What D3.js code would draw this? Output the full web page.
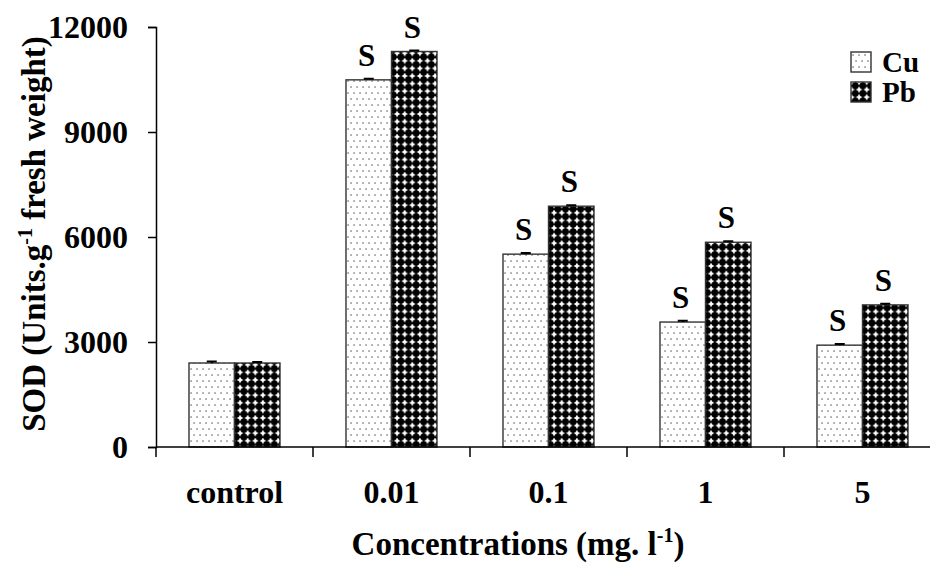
<!DOCTYPE html>
<html>
<head>
<meta charset="utf-8">
<script src="https://cdn.jsdelivr.net/npm/d3@7/dist/d3.min.js"></script>
<style>
  html, body { margin: 0; padding: 0; background: #fff; }
  svg { display: block; font-family: "Liberation Serif", "Times New Roman", serif; font-weight: bold; }
</style>
</head>
<body>
<svg id="chart" width="930" height="563"></svg>
<script>
// SOD activity by metal concentration
const categories = ["control", "0.01", "0.1", "1", "5"];
const series = ["Cu", "Pb"];
const cuValues = [2400, 10490, 5510, 3570, 2910];
const pbValues = [2400, 11300, 6880, 5850, 4060];
const cuErrors = [40, 30, 30, 40, 30];
const pbErrors = [30, 30, 30, 30, 30];
const cuSignificant = [false, true, true, true, true];
const pbSignificant = [false, true, true, true, true];
const yTicks = [0, 3000, 6000, 9000, 12000];

(function () {
const svg = d3.select("#chart");
const W = 930;
const plotLeft = 156, plotBottom = 447, plotTop = 27;
const serif = "'Liberation Serif', 'Times New Roman', serif";

// fill patterns: sparse dots for Cu, black diamond grid for Pb
const defs = svg.append("defs");
const dots = defs.append("pattern").attr("id", "pat-cu")
  .attr("patternUnits", "userSpaceOnUse").attr("width", 12).attr("height", 12);
dots.append("rect").attr("width", 12).attr("height", 12).attr("fill", "#fff");
[[2, 3], [8, 3], [5, 9], [11, 9]].forEach(([cx, cy]) => {
  dots.append("rect").attr("x", cx - 0.6).attr("y", cy - 0.6)
    .attr("width", 1.3).attr("height", 1.3).attr("fill", "#555");
});
const diam = defs.append("pattern").attr("id", "pat-pb")
  .attr("patternUnits", "userSpaceOnUse").attr("width", 7.6).attr("height", 7.6)
  .attr("x", 0.5).attr("y", 0);
diam.append("rect").attr("width", 7.6).attr("height", 7.6).attr("fill", "#fff");
diam.append("path").attr("d", "M3.8,-0.3 L7.9,3.8 L3.8,7.9 L-0.3,3.8 Z").attr("fill", "#000");
diam.append("circle").attr("cx", 3.8).attr("cy", 3.8).attr("r", 3.5).attr("fill", "#000");

const fills = { Cu: "url(#pat-cu)", Pb: "url(#pat-pb)" };
const valuesBy = { Cu: cuValues, Pb: pbValues };
const errorsBy = { Cu: cuErrors, Pb: pbErrors };
const sigBy = { Cu: cuSignificant, Pb: pbSignificant };

const x0 = d3.scaleBand().domain(categories).range([plotLeft, plotLeft + 5 * 157]).padding(0);
const x1 = d3.scaleBand().domain(series).range([0, x0.bandwidth()])
  .paddingInner(0).paddingOuter(0.725);
const y = d3.scaleLinear().domain([0, 12000]).range([plotBottom, plotTop]);

// bars
const groups = svg.append("g").selectAll("g").data(categories).join("g")
  .attr("transform", d => `translate(${x0(d)},0)`);

series.forEach(s => {
  groups.append("rect")
    .attr("x", x1(s))
    .attr("y", (d, i) => y(valuesBy[s][i]))
    .attr("width", x1.bandwidth())
    .attr("height", (d, i) => y(0) - y(valuesBy[s][i]))
    .attr("fill", fills[s])
    .attr("stroke", "#333").attr("stroke-width", 1.4);

  // error bars
  groups.append("path")
    .attr("d", (d, i) => {
      const cx = x1(s) + x1.bandwidth() / 2;
      const v = valuesBy[s][i], e = errorsBy[s][i];
      return `M${cx},${y(v)}V${y(v + e)}M${cx - 5},${y(v + e)}H${cx + 5}`;
    })
    .attr("stroke", "#000").attr("stroke-width", 2).attr("fill", "none");

  // significance marks
  groups.filter((d, i) => sigBy[s][i]).append("text")
    .attr("x", x1(s) + x1.bandwidth() / 2 - 2)
    .attr("y", d => y(valuesBy[s][categories.indexOf(d)]) - 14)
    .attr("text-anchor", "middle")
    .attr("font-size", 31)
    .text("S");
});

// y axis
const yAxis = svg.append("g").attr("transform", `translate(${plotLeft},0)`)
  .call(d3.axisLeft(y).tickValues(yTicks).tickFormat(d3.format("d")).tickSize(8).tickPadding(20))
  .attr("font-family", serif).attr("font-size", 32);
yAxis.select(".domain").attr("stroke", "#000").attr("stroke-width", 1.5);
yAxis.selectAll(".tick line").attr("stroke", "#000").attr("stroke-width", 1.5);
yAxis.selectAll(".tick text").attr("font-weight", "bold").attr("fill", "#000").attr("dy", "0.34em");

// x axis: baseline, ticks at category boundaries, labels at centres
const xAxis = svg.append("g").attr("transform", `translate(0,${plotBottom})`)
  .call(d3.axisBottom(x0).tickSize(0).tickPadding(33))
  .attr("font-family", serif).attr("font-size", 32);
xAxis.select(".domain").attr("d", `M${plotLeft},0H${W}`).attr("stroke", "#000").attr("stroke-width", 1.5);
xAxis.selectAll(".tick text").attr("font-weight", "bold").attr("fill", "#000");
xAxis.selectAll(".boundary").data(categories).join("line")
  .attr("class", "boundary")
  .attr("x1", d => x0(d)).attr("x2", d => x0(d))
  .attr("y1", 0).attr("y2", 10)
  .attr("stroke", "#000").attr("stroke-width", 1.5);

// axis titles
const xt = svg.append("text").attr("x", 518).attr("y", 555)
  .attr("text-anchor", "middle").attr("font-size", 33);
xt.append("tspan").text("Concentrations (mg. l");
xt.append("tspan").attr("font-size", 20).attr("dy", -13).text("-1");
xt.append("tspan").attr("dy", 13).text(")");

const yt = svg.append("text").attr("transform", "translate(45,234) rotate(-90)")
  .attr("text-anchor", "middle").attr("font-size", 33);
yt.append("tspan").text("SOD (Units.g");
yt.append("tspan").attr("font-size", 20).attr("dy", -13).text("-1");
yt.append("tspan").attr("dy", 13).text(" fresh weight)");

// legend
const legend = svg.append("g").selectAll("g").data(series).join("g")
  .attr("transform", (d, i) => `translate(851,${52 + i * 30})`);
legend.append("rect").attr("width", 20).attr("height", 20)
  .attr("fill", d => fills[d]).attr("stroke", "#333").attr("stroke-width", 1.4);
legend.append("text").attr("x", 31).attr("y", 20).attr("font-size", 29).text(d => d);
})();
</script>
</body>
</html>
